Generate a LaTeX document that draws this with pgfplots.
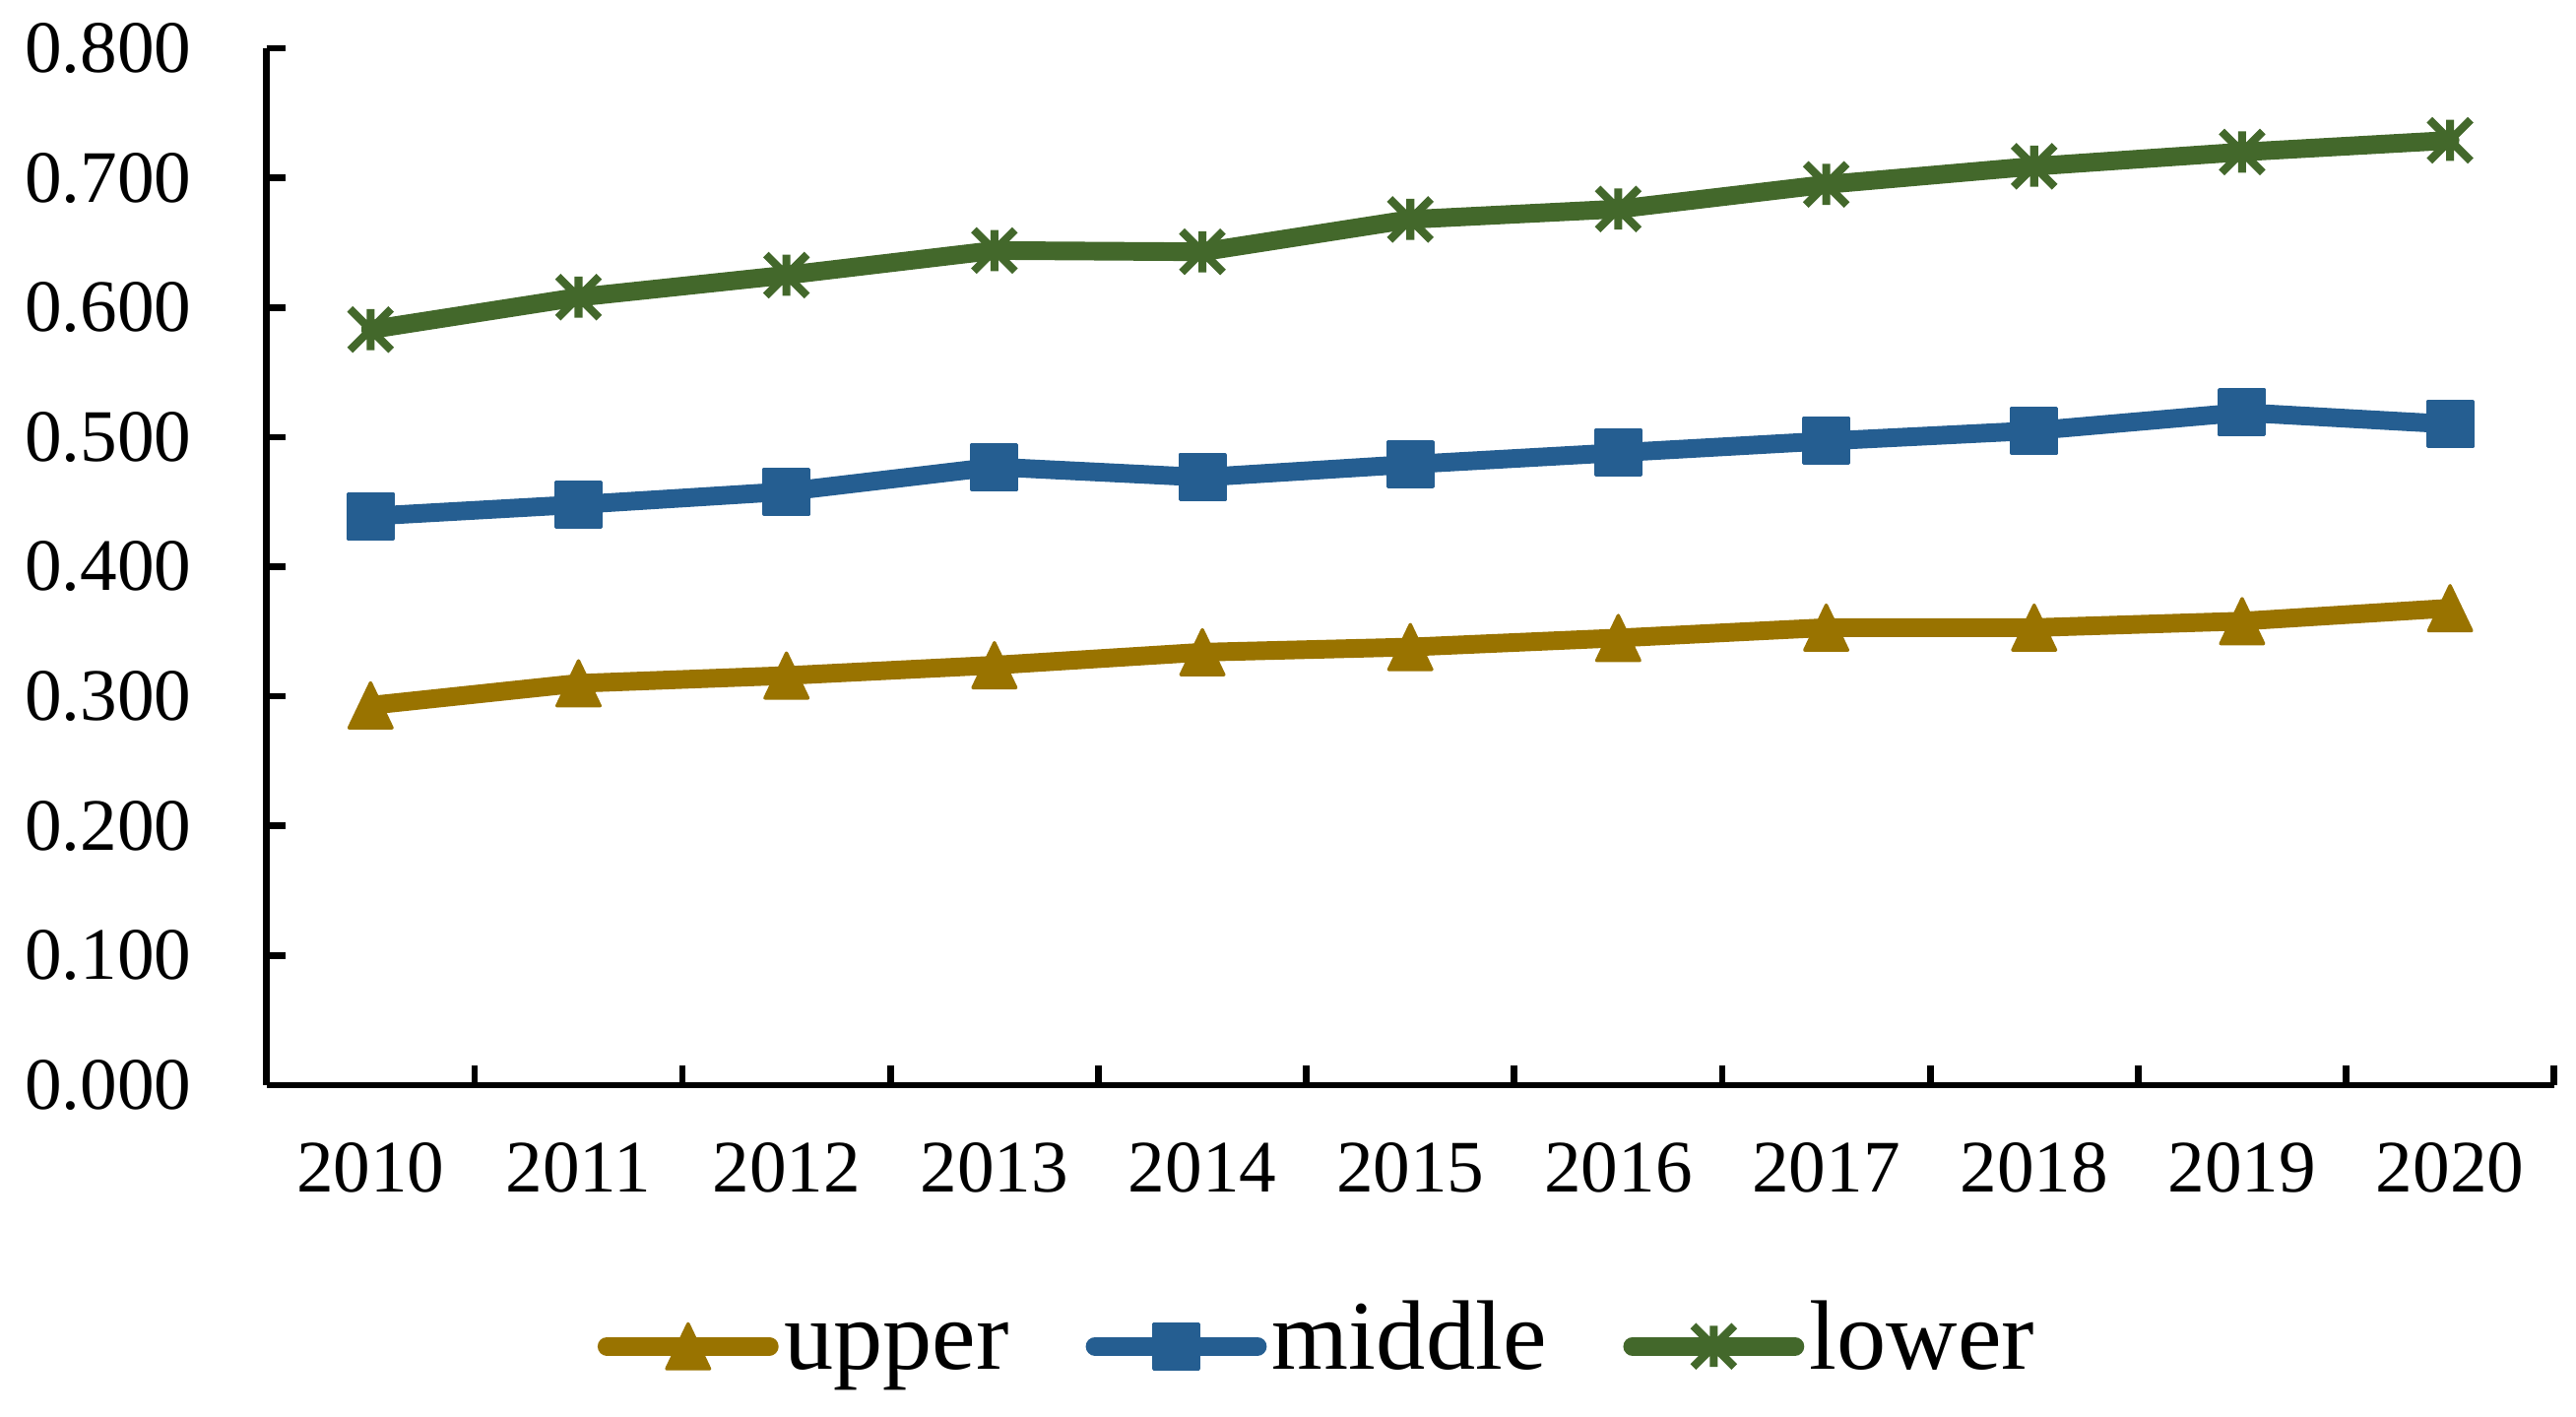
\documentclass[border=0pt]{standalone}
\usepackage{fontspec}
\setmainfont{Liberation Serif}
\usepackage{pgfplots}
\pgfplotsset{compat=1.18}
\definecolor{cUp}{HTML}{997300}
\definecolor{cMid}{HTML}{255E91}
\definecolor{cLow}{HTML}{43682B}
\pgfdeclareplotmark{xast}{%
  \pgfpathmoveto{\pgfpoint{0pt}{\pgfplotmarksize}}\pgfpathlineto{\pgfpoint{0pt}{-\pgfplotmarksize}}%
  \pgfpathmoveto{\pgfpoint{\pgfplotmarksize}{\pgfplotmarksize}}\pgfpathlineto{\pgfpoint{-\pgfplotmarksize}{-\pgfplotmarksize}}%
  \pgfpathmoveto{\pgfpoint{-\pgfplotmarksize}{\pgfplotmarksize}}\pgfpathlineto{\pgfpoint{\pgfplotmarksize}{-\pgfplotmarksize}}%
  \pgfusepathqstroke}
\pgfdeclareplotmark{tri}{%
  \pgfpathmoveto{\pgfpoint{0pt}{\pgfplotmarksize}}%
  \pgfpathlineto{\pgfpoint{-0.955\pgfplotmarksize}{-\pgfplotmarksize}}%
  \pgfpathlineto{\pgfpoint{0.955\pgfplotmarksize}{-\pgfplotmarksize}}%
  \pgfpathclose\pgfusepathqfillstroke}
\begin{document}
\begin{tikzpicture}
\useasboundingbox (-48.6pt,-60.4pt) rectangle (421pt,197.8pt);
\begin{axis}[
  scale only axis, width=417pt, height=189pt,
  xmin=-0.5, xmax=10.5, ymin=0, ymax=0.8,
  axis lines=left, axis line style={-, line width=1.2pt, black},
  tick align=inside, major tick length=3.5pt,
  tick style={line width=1.2pt, black},
  xtick={-0.5,0.5,...,10.5}, xticklabels={},
  extra x ticks={0,1,...,10},
  extra x tick labels={2010,2011,2012,2013,2014,2015,2016,2017,2018,2019,2020},
  extra x tick style={major tick length=0pt},
  ytick={0,0.1,...,0.8},
  yticklabel style={/pgf/number format/fixed, /pgf/number format/fixed zerofill, /pgf/number format/precision=3, xshift=-10.2pt},
  /pgf/number format/assume math mode=true,
  xticklabel style={yshift=-7pt},
  ticklabel style={font=\fontsize{13.5}{15}\selectfont},
  clip=false,
  every axis plot/.append style={line width=3.4pt, line join=round, line cap=round},
  legend style={at={(0.46,-0.252)}, anchor=center, draw=none, fill=none,
    legend columns=3, font=\fontsize{18}{20}\selectfont,
    nodes={inner xsep=1pt, inner ysep=2pt, text height=12.5pt, text depth=4pt},
    /tikz/every even column/.append style={column sep=13pt}},
  legend image code/.code={\draw[mark repeat=2,mark phase=2] plot coordinates {(1.7pt,0pt) (16.5pt,0pt) (31.3pt,0pt)};},
]
\addplot[cUp, mark=tri, mark size=4.1pt, mark options={solid, fill=cUp, line width=0.6pt, line join=round}]
 coordinates {(0,0.293) (1,0.310) (2,0.316) (3,0.324) (4,0.334) (5,0.338) (6,0.345) (7,0.353) (8,0.353) (9,0.358) (10,0.368)};
\addlegendentry{upper}
\addplot[cMid, mark=square*, mark size=4.1pt, mark options={solid, fill=cMid, line width=0.6pt, line join=round}]
 coordinates {(0,0.439) (1,0.448) (2,0.458) (3,0.477) (4,0.469) (5,0.479) (6,0.488) (7,0.497) (8,0.505) (9,0.519) (10,0.510)};
\addlegendentry{middle}
\addplot[cLow, mark=xast, mark size=3.75pt, mark options={solid, line width=1.45pt, line cap=butt}]
 coordinates {(0,0.583) (1,0.608) (2,0.625) (3,0.644) (4,0.643) (5,0.668) (6,0.676) (7,0.695) (8,0.709) (9,0.720) (10,0.729)};
\addlegendentry{lower}
\end{axis}
\end{tikzpicture}
\end{document}
